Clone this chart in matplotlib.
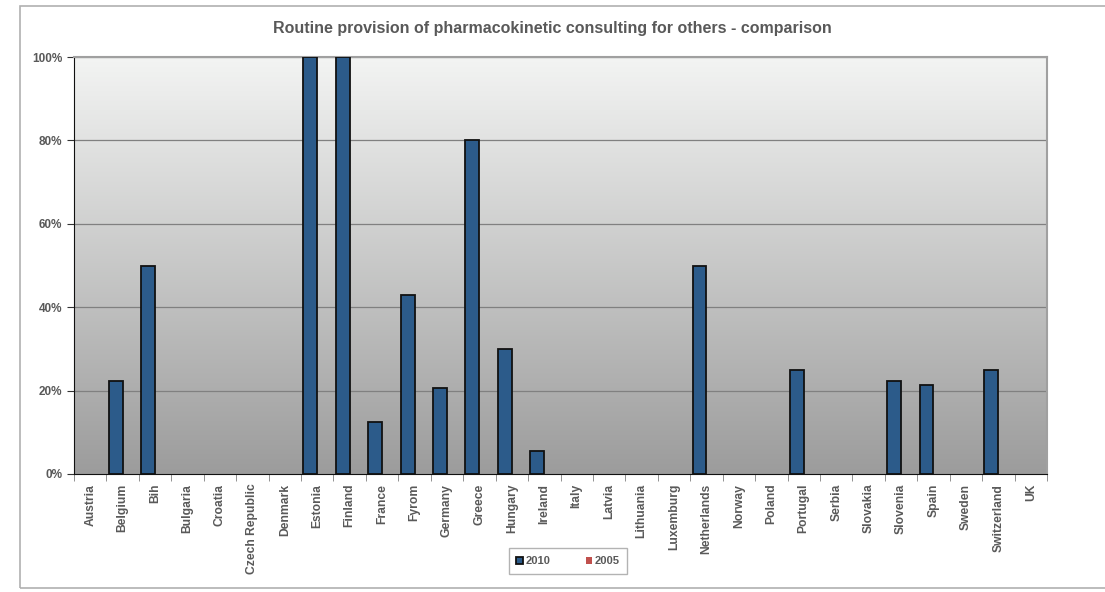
import numpy as np
import matplotlib.pyplot as plt
from matplotlib.patches import Rectangle
from matplotlib.colors import LinearSegmentedColormap
from matplotlib.ticker import PercentFormatter

plt.rcParams['font.family'] = ['Liberation Sans', 'DejaVu Sans']

countries = ["Austria", "Belgium", "Bih", "Bulgaria", "Croatia", "Czech Republic",
             "Denmark", "Estonia", "Finland", "France", "Fyrom", "Germany", "Greece",
             "Hungary", "Ireland", "Italy", "Latvia", "Lithuania", "Luxemburg",
             "Netherlands", "Norway", "Poland", "Portugal", "Serbia", "Slovakia",
             "Slovenia", "Spain", "Sweden", "Switzerland", "UK"]
v2010 = [0, 22.2, 50, 0, 0, 0, 0, 100, 100, 12.5, 42.9, 20.6, 80, 30, 5.5, 0, 0, 0, 0,
         50, 0, 0, 25, 0, 0, 22.2, 21.4, 0, 25, 0]
v2005 = [0] * len(countries)

txt = '#595959'

fig = plt.figure(figsize=(11.05, 5.92), dpi=100)
# cadre exterieur du graphique
fig.patches.append(Rectangle((20 / 1105, 1 - 588 / 592), 1.2, (588 - 6) / 592,
                             transform=fig.transFigure, fill=False,
                             edgecolor='#b0b0b0', linewidth=1.2))

ax = fig.add_axes([74 / 1105, 1 - 474 / 592, (1047 - 74) / 1105, (474 - 57) / 592])

n = len(countries)
x = np.arange(n)
w = 0.43

# fond en degrade
grad = np.linspace(0, 1, 256).reshape(-1, 1)
cmap = LinearSegmentedColormap.from_list('g', ['#9c9c9c', '#f3f4f3'])
ax.imshow(grad, extent=[-0.5, n - 0.5, 0, 100], aspect='auto', cmap=cmap,
          origin='lower', zorder=0)

for y in range(20, 101, 20):
    ax.axhline(y, color='#808080', linewidth=0.9, zorder=1)

lw2010 = [1.3 if v > 0 else 0 for v in v2010]
ax.bar(x - w / 2, v2010, w, color='#2c5b8a', edgecolor='#111111', linewidth=lw2010,
       label='2010', zorder=3)
ax.bar(x + w / 2, v2005, w, color='#c0504d', linewidth=0, label='2005', zorder=3)

ax.set_xlim(-0.5, n - 0.5)
ax.set_ylim(0, 100)
ax.set_yticks(range(0, 101, 20))
ax.yaxis.set_major_formatter(PercentFormatter(decimals=0))
ax.set_xticks(np.arange(n + 1) - 0.5, minor=True)
ax.set_xticks(x)
ax.set_xticklabels(countries, rotation=90, fontsize=8.7, fontweight='bold', color=txt)
ax.tick_params(axis='x', which='major', length=0, pad=7)
ax.tick_params(axis='x', which='minor', length=5, color='#808080')
ax.tick_params(axis='y', length=5, labelsize=8.5, labelcolor=txt, color='#333333')
for lab in ax.get_yticklabels():
    lab.set_fontweight('bold')

ax.spines['left'].set_color('#111111')
ax.spines['bottom'].set_color('#111111')
ax.spines['top'].set_color('#a0a0a0')
ax.spines['right'].set_color('#a0a0a0')
ax.spines['top'].set_linewidth(1.5)
ax.spines['right'].set_linewidth(1.5)

fig.text(0.5, 1 - 28 / 592, "Routine provision of pharmacokinetic consulting for others - comparison",
         ha='center', va='center', fontsize=11.5, fontweight='bold', color=txt)

leg = fig.legend(loc='center', bbox_to_anchor=(568 / 1105, 1 - 561 / 592), ncol=2,
                 fontsize=8, frameon=True, fancybox=False, edgecolor='#a0a0a0',
                 handlelength=0.6, handleheight=0.6, handletextpad=0.2,
                 columnspacing=3.2, borderpad=0.7)
leg.legend_handles[0].set_linewidth(1.3)
leg.legend_handles[0].set_edgecolor('#111111')
for t in leg.get_texts():
    t.set_fontweight('bold')
    t.set_color(txt)

fig.savefig('out.png', dpi=100)
